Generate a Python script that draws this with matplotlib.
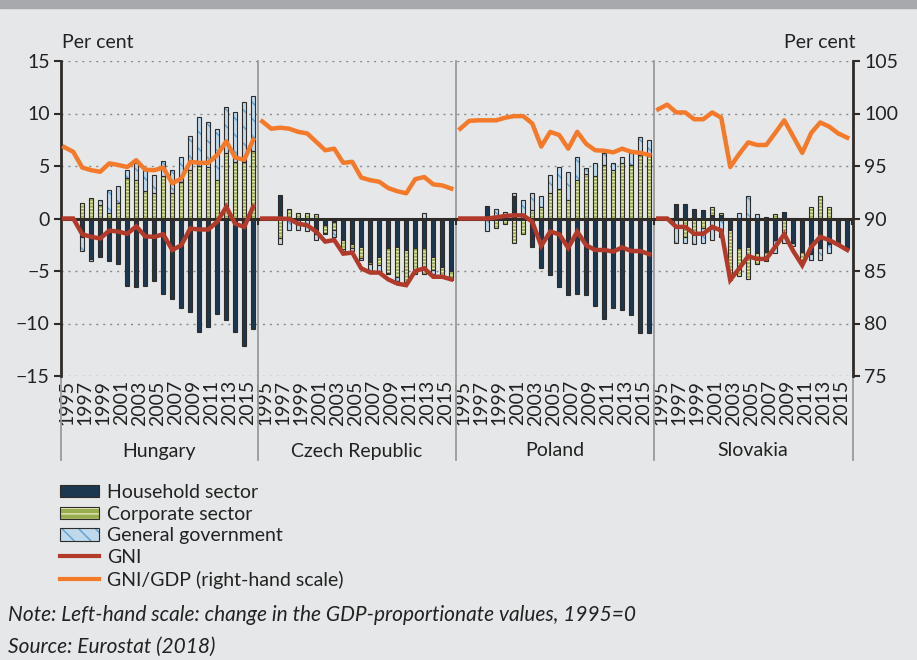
import numpy as np
import matplotlib
matplotlib.use("Agg")
import matplotlib.pyplot as plt
from matplotlib.patches import Patch, Rectangle
from matplotlib.lines import Line2D
from matplotlib.legend_handler import HandlerTuple
import matplotlib.transforms as mtransforms

plt.rcParams['font.family'] = ['Lato', 'DejaVu Sans']
plt.rcParams['hatch.linewidth'] = 1.0

# ---- data (change vs 1995, % of GDP; GNI/GDP on right-hand scale) ----
countries = ['Hungary', 'Czech Republic', 'Poland', 'Slovakia']
years = list(range(1995, 2017))

household = {
    'Hungary': [0, 0, -1.8, -3.9, -3.7, -4.0, -4.35, -6.45, -6.55, -6.45, -5.95, -7.15, -7.7, -8.5, -8.9, -10.8, -10.3, -9.1, -9.7, -10.8, -12.15, -10.55],
    'Czech Republic': [0, 0, 2.2, 0, 0, 0, -1.45, -0.6, -0.3, -2.0, -2.45, -2.7, -4.15, -3.7, -2.85, -2.7, -3.0, -2.85, -2.85, -3.65, -4.6, -5.0],
    'Poland': [0, 0, 0, 1.15, 0, 0, 2.1, 0, -2.75, -4.7, -5.35, -6.5, -7.25, -7.15, -7.25, -8.35, -9.6, -8.5, -8.75, -9.2, -10.95, -10.95],
    'Slovakia': [0, 0, 1.35, 1.35, 0.9, 0.8, 0.3, 0.3, -1.1, -2.85, -2.7, -3.25, -3.15, -2.0, 0.65, -2.3, -3.15, -3.35, -2.85, -2.4, -2.4, -2.7],
}
corporate = {
    'Hungary': [0, 0, 1.5, 2.0, 1.25, 0.55, 1.5, 3.85, 3.65, 2.6, 2.4, 4.05, 2.45, 3.45, 4.6, 5.0, 4.9, 3.7, 6.25, 5.4, 5.4, 6.4],
    'Czech Republic': [0, 0, -1.9, 0.9, 0.55, 0.55, 0.45, -0.75, -0.8, -0.95, -0.4, -1.1, -0.2, -0.75, -2.3, -2.9, -3.0, -2.4, -2.45, -1.25, -0.8, -0.9],
    'Poland': [0, 0, 0, 0, -0.95, -0.55, -2.3, -1.5, 0.8, 1.1, 2.4, 2.85, 1.75, 3.65, 4.2, 4.05, 5.1, 4.65, 5.3, 5.1, 6.05, 5.95],
    'Slovakia': [0, 0, 0, -1.75, -1.6, -0.9, 0.8, 0.25, -4.75, -2.6, -3.1, -1.1, -0.9, 0.4, -1.45, 0, -0.8, 1.1, 2.1, 1.05, 0, -0.15],
}
government = {
    'Hungary': [0, 0, -1.3, -0.1, 0.5, 2.2, 1.6, 0.8, 1.6, 2.25, 1.7, 1.45, 2.15, 2.45, 3.25, 4.7, 4.25, 4.85, 4.4, 4.75, 5.7, 5.25],
    'Czech Republic': [0, 0, -0.5, -1.05, -1.05, -1.15, -0.55, -0.1, -0.7, -0.1, -0.2, -0.15, -0.65, -0.65, -0.15, -0.35, -0.1, 0, 0.55, -0.4, 0, 0],
    'Poland': [0, 0, 0, -1.15, 0.95, 0.6, 0.35, 1.75, 1.6, 1.0, 1.7, 2.05, 2.7, 2.2, 0.65, 1.25, 1.15, 0.65, 0.55, 1.1, 1.7, 1.5],
    'Slovakia': [0, 0, -2.3, -0.55, -0.8, -1.4, -2.05, -1.75, 0, 0.55, 2.1, 0.4, 0.15, -1.25, -0.85, -0.3, 0, -0.6, -1.1, -0.85, 0, 0],
}
gni = {
    'Hungary': [0, 0, -1.5, -1.75, -1.9, -1.15, -1.25, -1.45, -0.75, -1.7, -1.75, -1.5, -3.0, -2.55, -0.95, -1.05, -1.05, -0.3, 1.1, -0.5, -0.8, 1.15],
    'Czech Republic': [0, 0, 0, -0.05, -0.5, -0.65, -1.25, -2.2, -2.05, -3.35, -3.25, -4.75, -5.15, -5.15, -5.8, -6.2, -6.35, -5.0, -4.75, -5.55, -5.55, -5.8],
    'Poland': [0, 0, 0, 0, 0.1, 0.25, 0.3, 0.3, -0.3, -2.6, -1.25, -1.5, -2.8, -1.25, -2.55, -3.0, -3.0, -3.15, -2.75, -3.1, -3.1, -3.4],
    'Slovakia': [0, 0, -0.8, -0.8, -1.45, -1.45, -0.8, -1.15, -5.85, -4.75, -3.6, -3.85, -3.85, -2.7, -1.5, -3.1, -4.45, -2.7, -1.75, -2.05, -2.5, -3.0],
}
gni_gdp = {
    'Hungary': [96.8, 96.35, 94.85, 94.6, 94.45, 95.25, 95.1, 94.9, 95.55, 94.65, 94.6, 94.85, 93.35, 93.8, 95.4, 95.3, 95.3, 96.05, 97.35, 95.8, 95.6, 97.5],
    'Czech Republic': [99.25, 98.55, 98.65, 98.55, 98.25, 98.1, 97.3, 96.5, 96.65, 95.3, 95.4, 93.9, 93.65, 93.5, 92.9, 92.6, 92.4, 93.75, 93.95, 93.25, 93.15, 92.85],
    'Poland': [98.55, 99.3, 99.35, 99.35, 99.35, 99.6, 99.75, 99.75, 99.05, 96.85, 98.25, 97.95, 96.65, 98.25, 97.1, 96.5, 96.45, 96.3, 96.65, 96.35, 96.25, 96.05],
    'Slovakia': [100.4, 100.85, 100.1, 100.1, 99.45, 99.45, 100.1, 99.6, 94.9, 96.15, 97.25, 97.0, 97.0, 98.15, 99.35, 97.8, 96.25, 98.15, 99.15, 98.75, 98.1, 97.7],
}

# ---- styles ----
bg = '#e6e7e8'
dark = '#2e2b29'
txt = '#222222'
navy = '#1b3850'
green, green_h = '#98ad4e', '#e3e9b8'
blue, blue_h = '#bed8ec', '#5f9fd0'
red = '#b23a2b'
orange = '#f37a2b'
sep = '#9a9a9a'
fs = 14

W, H = 917, 660
fig = plt.figure(figsize=(W / 100, H / 100), dpi=100, facecolor=bg)
fig.add_artist(Rectangle((0, 1 - 8 / H), 1, 8 / H, transform=fig.transFigure,
                         color='#a7a9ac', zorder=0))

ax = fig.add_axes([61 / W, 1 - 376 / H, (853 - 61) / W, (376 - 61) / H])
ax.set_facecolor('none')
ax2 = ax.twinx()

n = len(years)
bw = 0.5
for c, name in enumerate(countries):
    x = np.arange(n) + c * n
    pos = np.zeros(n)
    neg = np.zeros(n)
    for vals, fc, hc, hatch in [(household[name], navy, None, None),
                                (corporate[name], green, green_h, '-----'),
                                (government[name], blue, blue_h, '\\\\')]:
        v = np.array(vals, dtype=float)
        bottom = np.where(v >= 0, pos, neg)
        pos = pos + np.where(v >= 0, v, 0)
        neg = neg + np.where(v < 0, v, 0)
        m = v != 0
        if hatch:
            ax.bar(x[m], v[m], bw, bottom=bottom[m], color=fc, edgecolor=hc,
                   hatch=hatch, linewidth=0, zorder=2)
        else:
            ax.bar(x[m], v[m], bw, bottom=bottom[m], color=fc, linewidth=0, zorder=2)
        ax.bar(x[m], v[m], bw, bottom=bottom[m], fill=False, edgecolor=dark,
               linewidth=0.8, zorder=3)
    ax.plot(x, gni[name], color=red, lw=3.2, zorder=5, solid_joinstyle='miter')
    ax2.plot(x, gni_gdp[name], color=orange, lw=3.2, zorder=5)

xl = (-0.36, 4 * n - 0.36)
ax.set_xlim(*xl)
ax.set_ylim(-15, 15)
ax2.set_ylim(75, 105)
ax.set_yticks(range(-15, 16, 5))
ax2.set_yticks(range(75, 106, 5))
ax.yaxis.grid(True, linestyle=(0, (1.5, 3.5)), color='#8a8a8a', lw=1.0)
ax.set_axisbelow(True)
ax.axhline(0, color=dark, lw=2.2, zorder=4)

for a in (ax, ax2):
    for s in ('top', 'bottom'):
        a.spines[s].set_visible(False)
ax.spines['right'].set_visible(False)
ax2.spines['left'].set_visible(False)
ax.spines['left'].set_color(dark)
ax.spines['left'].set_linewidth(2)
ax2.spines['right'].set_color(dark)
ax2.spines['right'].set_linewidth(2)
ax.tick_params(axis='y', direction='out', length=5, width=1.5, color=dark,
               labelsize=fs, labelcolor=txt, pad=3)
ax2.tick_params(axis='y', direction='out', length=5, width=1.5, color=dark,
                labelsize=fs, labelcolor=txt, pad=3)

# year labels sit a little right of their category centre, as in the original
lab_off = 0.35
ticks = [c * n + j + lab_off for c in range(4) for j in range(0, 21, 2)]
labels = [str(years[j]) for c in range(4) for j in range(0, 21, 2)]
ax.set_xticks(ticks)
ax.set_xticklabels(labels, rotation=90, fontsize=14, color=txt)
ax.tick_params(axis='x', length=0, pad=3)

# panel separators and category-axis boxes
trans = mtransforms.blended_transform_factory(ax.transData, ax.transAxes)
low = -(460 - 376) / (376 - 61)
for c in range(1, 4):
    ax.add_line(Line2D([c * n - 0.5] * 2, [1, low], transform=trans, color=sep,
                       lw=1.3, clip_on=False, zorder=1))
for xe in xl:
    ax.add_line(Line2D([xe] * 2, [0, low], transform=trans, color=sep,
                       lw=1.3, clip_on=False, zorder=1))
for c in range(1, 5):
    ax.plot([c * n - 0.5] * 2, [0, -0.5], color=dark, lw=1.5, zorder=4, clip_on=False)

tname = mtransforms.blended_transform_factory(ax.transData, fig.transFigure)
for c, name in enumerate(countries):
    ax.text(c * n + (n - 1) / 2, 1 - 451 / H, name, transform=tname, ha='center',
            va='center', fontsize=fs, color=txt)

fig.text(62 / W, 1 - 43 / H, 'Per cent', ha='left', va='center', fontsize=fs, color=txt)
fig.text(855 / W, 1 - 43 / H, 'Per cent', ha='right', va='center', fontsize=fs, color=txt)

handles = [
    Patch(facecolor=navy, edgecolor=dark, linewidth=0.8),
    (Patch(facecolor=green, edgecolor=green_h, hatch='---', linewidth=0),
     Patch(fill=False, edgecolor=dark, linewidth=0.8)),
    (Patch(facecolor=blue, edgecolor=blue_h, hatch='\\\\', linewidth=0),
     Patch(fill=False, edgecolor=dark, linewidth=0.8)),
    Line2D([], [], color=red, lw=3),
    Line2D([], [], color=orange, lw=3),
]
leg_labels = ['Household sector', 'Corporate sector', 'General government', 'GNI',
              'GNI/GDP (right-hand scale)']
fig.legend(handles, leg_labels, loc='upper left', bbox_to_anchor=(60 / W, 1 - 484 / H),
           frameon=False, fontsize=fs, handlelength=2.0, handleheight=0.6,
           labelspacing=0.24, handletextpad=0.4, borderaxespad=0, borderpad=0,
           handler_map={tuple: HandlerTuple(ndivide=1)}, labelcolor=txt)

fig.text(8 / W, 1 - 615 / H, 'Note: Left-hand scale: change in the GDP-proportionate values, 1995=0',
         style='italic', ha='left', va='center', fontsize=15, color=txt)
fig.text(8 / W, 1 - 647 / H, 'Source: Eurostat (2018)', style='italic', ha='left',
         va='center', fontsize=15, color=txt)

fig.savefig('out.png', dpi=100, facecolor=bg)
